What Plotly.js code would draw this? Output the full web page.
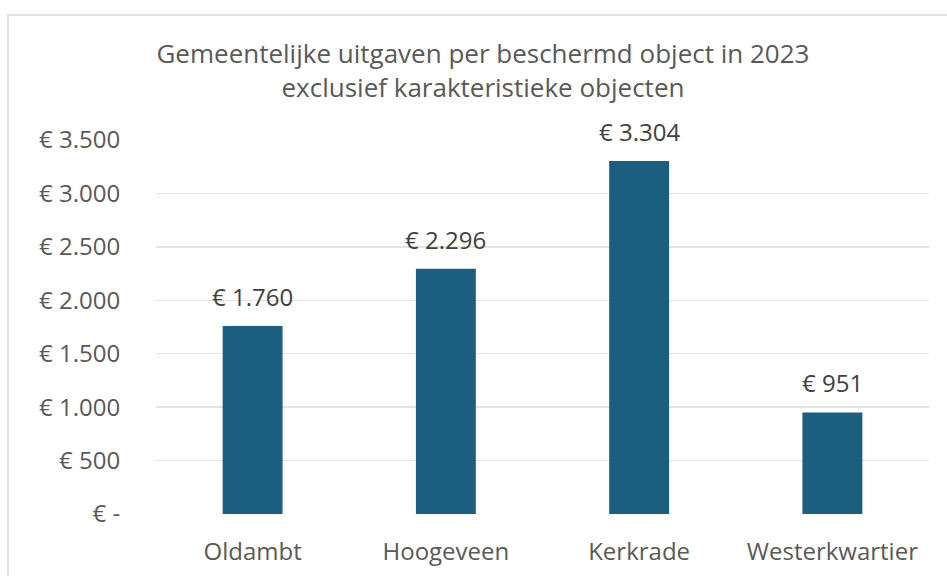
<html lang="nl">
  <head>
    <meta charset="UTF-8" />
    <title>Gemeentelijke uitgaven</title>
    <script src="https://cdn.plot.ly/plotly-3.0.1.min.js"></script>
    <style>
      body { margin: 0; background: #ffffff; }
      #frame { position: absolute; left: 7px; top: 14px; width: 960px; height: 600px; border: 2px solid #e2e2e2; }
      #chart { position: absolute; left: 0; top: 0; width: 947px; height: 576px; }
    </style>
  </head>
  <body>
    <div id="frame"></div>
    <div id="chart"></div>
    <script>
      // data
      const gemeenten = ['Oldambt', 'Hoogeveen', 'Kerkrade', 'Westerkwartier'];
      const uitgaven = [1760, 2296, 3304, 951];
      const yTicks = [0, 500, 1000, 1500, 2000, 2500, 3000, 3500];
      const yTickLabels = ['€ -', '€ 500', '€ 1.000', '€ 1.500', '€ 2.000', '€ 2.500', '€ 3.000', '€ 3.500'];

      function euro(v) {
        return '€ ' + v.toLocaleString('de-DE');
      }

      const grey = '#595959';
      const fontFam = '"Open Sans", Roboto, sans-serif';

      const trace = {
        type: 'bar',
        x: gemeenten,
        y: uitgaven,
        marker: { color: '#1b5e7f' },
        hoverinfo: 'x+y'
      };

      const labels = gemeenten.map((g, i) => ({
        x: g,
        y: uitgaven[i],
        text: euro(uitgaven[i]),
        showarrow: false,
        yanchor: 'bottom',
        yshift: 11,
        font: { size: 24, color: '#404040', family: fontFam }
      }));

      const layout = {
        width: 947,
        height: 576,
        margin: { l: 156, r: 18, t: 140, b: 62 },
        paper_bgcolor: 'rgba(0,0,0,0)',
        plot_bgcolor: 'rgba(0,0,0,0)',
        font: { family: fontFam, color: grey },
        title: {
          text: 'Gemeentelijke uitgaven per beschermd object in 2023<br>exclusief karakteristieke objecten',
          font: { size: 26, color: grey, family: fontFam },
          x: 0.51,
          xanchor: 'center',
          y: 0.89,
          yref: 'container',
          yanchor: 'top'
        },
        bargap: 0.69,
        xaxis: {
          tickfont: { size: 24, color: grey },
          showline: false,
          ticks: 'outside',
          ticklen: 16,
          tickcolor: 'rgba(0,0,0,0)'
        },
        yaxis: {
          range: [0, 3500],
          tickvals: yTicks,
          ticktext: yTickLabels,
          tickfont: { size: 24, color: grey },
          gridcolor: '#e4e4e4',
          gridwidth: 1.5,
          zeroline: false,
          ticks: 'outside',
          ticklen: 30,
          tickcolor: 'rgba(0,0,0,0)',
          fixedrange: true
        },
        annotations: labels,
        showlegend: false
      };

      Plotly.newPlot('chart', [trace], layout, { displayModeBar: false, staticPlot: true });
    </script>
  </body>
</html>
